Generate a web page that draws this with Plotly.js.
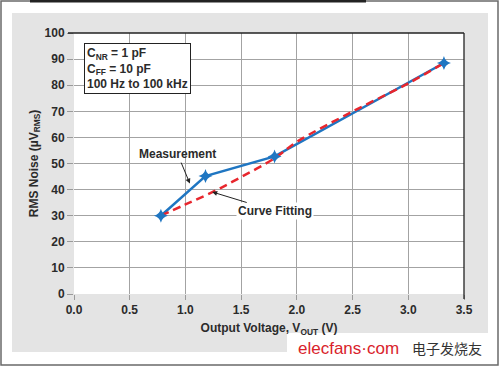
<!DOCTYPE html>
<html><head><meta charset="utf-8">
<script src="https://cdn.plot.ly/plotly-3.0.1.min.js"></script>
<style>html,body{margin:0;padding:0;background:#fff;}#chart{width:500px;height:368px;}</style>
</head><body><div id="chart"></div>
<script>
// Measured data (blue, with markers)
const measVout = [0.78, 1.18, 1.80, 3.32];
const measNoise = [30.0, 45.2, 52.7, 88.5];
// Curve fitting (red dashed)
const fitVout = [0.78, 1.0, 1.25, 1.5, 1.8, 2.0, 2.5, 3.0, 3.32];
const fitNoise = [30.0, 34.3, 39.2, 44.8, 52.0, 58.3, 69.9, 80.7, 88.5];
// Tick labels
const xTickVals = [0, 0.5, 1.0, 1.5, 2.0, 2.5, 3.0, 3.5];
const xTickText = ['0.0', '0.5', '1.0', '1.5', '2.0', '2.5', '3.0', '3.5'];
const yTickVals = [0, 10, 20, 30, 40, 50, 60, 70, 80, 90, 100];
const yTickText = ['0', '10', '20', '30', '40', '50', '60', '70', '80', '90', '100'];

const W = 500, H = 368;
const M = {l: 74, r: 36, t: 33, b: 74, pad: 0};
const pw = W - M.l - M.r, ph = H - M.t - M.b;
const px = v => (v - M.l) / pw;           // pixel x -> paper x
const py = v => (H - M.b - v) / ph;       // pixel y -> paper y

const FONT = 'Liberation Sans, Arial, sans-serif';
const txt = '#2b2b2b';
const blue = '#1f76c2';
const red = '#e8262d';

const traces = [
  {x: measVout, y: measNoise, mode: 'lines', line: {color: blue, width: 2.5}, hoverinfo: 'skip'},
  {x: fitVout, y: fitNoise, mode: 'lines', line: {color: red, width: 2.5, dash: '8px,5px', shape: 'spline'}, hoverinfo: 'skip'},
  {x: measVout, y: measNoise, mode: 'markers', marker: {symbol: 'star-diamond', size: 10, color: blue}, hoverinfo: 'skip'}
];

function whiteRect(x0, x1, y0, y1) {
  return {type: 'rect', xref: 'paper', yref: 'paper', x0: px(x0), x1: px(x1), y0: py(y1), y1: py(y0),
          fillcolor: '#ffffff', line: {width: 0}, layer: 'below'};
}

const layout = {
  width: W, height: H, margin: M,
  paper_bgcolor: '#e4e4e4', plot_bgcolor: '#ffffff',
  showlegend: false,
  font: {family: FONT, color: txt},
  xaxis: {
    range: [0, 3.5], tickvals: xTickVals, ticktext: xTickText,
    ticks: 'outside', ticklen: 5, tickcolor: '#9a9a9a',
    showgrid: true, gridcolor: '#a3a3a3', gridwidth: 1, zeroline: false, showline: false,
    tickfont: {family: FONT, size: 12, color: txt, weight: 'bold'},
    title: {text: 'Output Voltage, V<sub>OUT</sub> (V)', font: {family: FONT, size: 12, color: txt, weight: 'bold'}, standoff: 7},
    fixedrange: true
  },
  yaxis: {
    range: [0, 100], tickvals: yTickVals, ticktext: yTickText,
    ticks: 'outside', ticklen: 6, tickcolor: '#9a9a9a',
    showgrid: true, gridcolor: '#a3a3a3', gridwidth: 1, zeroline: false, showline: false,
    tickfont: {family: FONT, size: 12, color: txt, weight: 'bold'},
    title: {text: 'RMS Noise (µV<sub>RMS</sub>)', font: {family: FONT, size: 12, color: txt, weight: 'bold'}, standoff: 3},
    fixedrange: true
  },
  shapes: [
    // white surroundings of the gray panel
    whiteRect(-2, 502, -2, 13),
    whiteRect(-2, 502, 352, 370),
    whiteRect(-2, 12, -2, 370),
    whiteRect(488, 502, -2, 370),
    // white area under watermark
    whiteRect(287, 492, 333, 355),
    // outer frame
    {type: 'rect', xref: 'paper', yref: 'paper', x0: px(1), x1: px(498), y0: py(365), y1: py(1),
     fillcolor: 'rgba(0,0,0,0)', line: {color: '#6a6a6a', width: 1.5}, layer: 'below'},
    {type: 'line', xref: 'paper', yref: 'paper', x0: px(30), x1: px(366), y0: py(1), y1: py(1),
     line: {color: '#222', width: 3}, layer: 'below'},
    // top and right black border of plot
    {type: 'line', xref: 'paper', yref: 'paper', x0: px(68), x1: 1, y0: 1, y1: 1, line: {color: '#222', width: 1.3}},
    {type: 'line', xref: 'paper', yref: 'paper', x0: 1, x1: 1, y0: py(299), y1: 1, line: {color: '#222', width: 1.3}}
  ],
  annotations: [
    {xref: 'x', yref: 'y', x: 0.09, y: 96.2, xanchor: 'left', yanchor: 'top', align: 'left', showarrow: false,
     text: 'C<sub>NR</sub> = 1 pF<br>C<sub>FF</sub> = 10 pF<br>100 Hz to 100 kHz',
     font: {family: FONT, size: 12, color: txt, weight: 'bold'},
     bgcolor: '#ffffff', bordercolor: '#222', borderwidth: 1, borderpad: 2},
    {xref: 'x', yref: 'y', axref: 'x', ayref: 'y', x: 1.04, y: 42.3, ax: 0.93, ay: 53.6,
     text: 'Measurement', showarrow: true, arrowhead: 2, arrowsize: 1, arrowwidth: 1, arrowcolor: '#222',
     font: {family: FONT, size: 12, color: txt, weight: 'bold'}},
    {xref: 'x', yref: 'y', axref: 'x', ayref: 'y', x: 1.24, y: 39.1, ax: 1.80, ay: 31.8,
     text: 'Curve Fitting', showarrow: true, arrowhead: 2, arrowsize: 1, arrowwidth: 1, arrowcolor: '#222',
     bgcolor: '#ffffff',
     font: {family: FONT, size: 12, color: txt, weight: 'bold'}},
    // watermark
    {xref: 'paper', yref: 'paper', x: px(296), y: py(348), xanchor: 'left', yanchor: 'middle', showarrow: false,
     text: 'elecfans·com', font: {family: FONT, size: 17, color: '#d9232b'}},
    {xref: 'paper', yref: 'paper', x: px(410), y: py(348), xanchor: 'left', yanchor: 'middle', showarrow: false,
     text: '电子发烧友', font: {family: 'Noto Sans CJK SC', size: 14, color: '#333'}}
  ]
};

Plotly.newPlot('chart', traces, layout, {staticPlot: true, displayModeBar: false});
</script>
</body></html>
